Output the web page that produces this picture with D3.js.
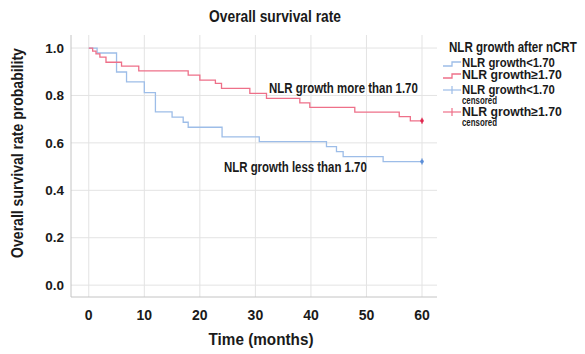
<!DOCTYPE html>
<html>
<head>
<meta charset="utf-8">
<script src="https://cdn.jsdelivr.net/npm/d3@7"></script>
<style>
  body { margin: 0; background: #fff; }
  svg text { font-family: "Liberation Sans", Arial, sans-serif; font-weight: bold; fill: #1a1a1a; }
</style>
</head>
<body>
<div id="chart"></div>
<script>
// survival steps (month, probability after the drop)
const lowMonths = [0, 1.5, 5.0, 6.8, 10.0, 12.0, 15.0, 17.0, 17.9, 24.0, 30.7, 42.8, 44.6, 45.8, 53.0, 60];
const lowSurv   = [1, 0.979, 0.899, 0.857, 0.812, 0.731, 0.709, 0.687, 0.666, 0.625, 0.605, 0.584, 0.563, 0.542, 0.521, 0.521];
const highMonths = [0, 0.7, 1.3, 2.0, 3.1, 5.9, 9.0, 17.9, 20.0, 22.8, 23.9, 29.0, 32.0, 38.0, 39.8, 47.9, 55.9, 57.9, 60];
const highSurv   = [1, 0.987, 0.975, 0.962, 0.940, 0.924, 0.904, 0.886, 0.865, 0.851, 0.830, 0.809, 0.788, 0.769, 0.750, 0.730, 0.711, 0.693, 0.693];

const xTicks = [0, 10, 20, 30, 40, 50, 60];
const yTicks = [0, 0.2, 0.4, 0.6, 0.8, 1.0];

const legendLabels = ['NLR growth<1.70', 'NLR growth\u22651.70', 'NLR growth<1.70', 'NLR growth\u22651.70'];

const width = 585;
const height = 354;
const blue = '#9dbde8';
const blueDot = '#5d8fd8';
const red = '#ee7089';
const redDot = '#e0284f';

// squeeze text horizontally to a condensed look (pre = extra transform before scaling)
function fit(sel, w, pre) {
  const node = sel.node();
  const k = w / node.getComputedTextLength();
  const tx = +sel.attr('x') || 0;
  const ty = +sel.attr('y') || 0;
  sel.attr('x', 0).attr('y', 0)
    .attr('transform', (pre || `translate(${tx},${ty})`) + ` scale(${k},1)`);
}

const svg = d3.select('#chart')
  .append('svg')
  .attr('width', width)
  .attr('height', height);

const plot = { left: 71, right: 437, top: 35, bottom: 297 };

const x = d3.scaleLinear().domain([-3.2, 62.7]).range([plot.left, plot.right]);
const y = d3.scaleLinear().domain([-0.05, 1.055]).range([plot.bottom, plot.top]);

// gridlines
svg.append('g')
  .selectAll('line')
  .data(yTicks)
  .join('line')
  .attr('x1', plot.left).attr('x2', plot.right)
  .attr('y1', (d) => y(d)).attr('y2', (d) => y(d))
  .attr('stroke', '#e3e3e3');

svg.append('g')
  .selectAll('line')
  .data(xTicks)
  .join('line')
  .attr('x1', (d) => x(d)).attr('x2', (d) => x(d))
  .attr('y1', plot.top).attr('y2', plot.bottom)
  .attr('stroke', '#e3e3e3');

// axes lines
svg.append('line')
  .attr('x1', plot.left).attr('x2', plot.left)
  .attr('y1', plot.top).attr('y2', plot.bottom)
  .attr('stroke', '#c4c4c4');
svg.append('line')
  .attr('x1', plot.left).attr('x2', plot.right)
  .attr('y1', plot.bottom).attr('y2', plot.bottom)
  .attr('stroke', '#c4c4c4');

// tick labels
svg.append('g')
  .selectAll('text')
  .data(yTicks)
  .join('text')
  .attr('x', 64)
  .attr('y', (d) => y(d))
  .attr('dy', '0.35em')
  .attr('text-anchor', 'end')
  .style('font-size', '13.5px')
  .text((d) => d.toFixed(1));

svg.append('g')
  .selectAll('text')
  .data(xTicks)
  .join('text')
  .attr('x', (d) => x(d))
  .attr('y', 320)
  .attr('text-anchor', 'middle')
  .style('font-size', '14px')
  .text((d) => d);

// titles
svg.append('text')
  .attr('x', 275).attr('y', 22)
  .attr('text-anchor', 'middle')
  .style('font-size', '17px')
  .text('Overall survival rate')
  .call(fit, 132);

svg.append('text')
  .attr('x', 261).attr('y', 345)
  .attr('text-anchor', 'middle')
  .style('font-size', '17px')
  .text('Time (months)')
  .call(fit, 105);

svg.append('text')
  .attr('text-anchor', 'middle')
  .style('font-size', '17px')
  .text('Overall survival rate probability')
  .call(fit, 210, 'translate(23,153) rotate(-90)');

// curves
const line = d3.line()
  .x((d) => x(d[0]))
  .y((d) => y(d[1]))
  .curve(d3.curveStepAfter);

const series = [
  { pts: d3.zip(lowMonths, lowSurv), color: blue, dot: blueDot },
  { pts: d3.zip(highMonths, highSurv), color: red, dot: redDot },
];

series.forEach((s) => {
  svg.append('path')
    .attr('d', line(s.pts))
    .attr('fill', 'none')
    .attr('stroke', s.color)
    .attr('stroke-width', 1.3);
  const last = s.pts[s.pts.length - 1];
  svg.append('line')
    .attr('x1', x(last[0])).attr('x2', x(last[0]))
    .attr('y1', y(last[1]) - 3).attr('y2', y(last[1]) + 3)
    .attr('stroke', s.dot).attr('stroke-width', 1.2);
  svg.append('circle')
    .attr('cx', x(last[0])).attr('cy', y(last[1]))
    .attr('r', 1.8)
    .attr('fill', s.dot);
});

// in-plot labels
svg.append('text')
  .attr('x', 269).attr('y', 93)
  .style('font-size', '14px')
  .text('NLR growth more than 1.70')
  .call(fit, 149);

svg.append('text')
  .attr('x', 224).attr('y', 172)
  .style('font-size', '14px')
  .text('NLR growth less than 1.70')
  .call(fit, 143);

// legend
const lg = svg.append('g');
lg.append('text')
  .attr('x', 449).attr('y', 52)
  .style('font-size', '15px')
  .text('NLR growth after nCRT')
  .call(fit, 128);

const stepRows = [{ yy: 66, c: blue }, { yy: 78, c: red }];
stepRows.forEach((r) => {
  lg.append('path')
    .attr('d', `M443,${r.yy} H452 V${r.yy - 4} H461`)
    .attr('fill', 'none')
    .attr('stroke', r.c)
    .attr('stroke-width', 1.3);
});
const censRows = [{ yy: 90, c: blue }, { yy: 112, c: red }];
censRows.forEach((r) => {
  lg.append('line')
    .attr('x1', 443).attr('x2', 461)
    .attr('y1', r.yy).attr('y2', r.yy)
    .attr('stroke', r.c).attr('stroke-width', 1.2);
  lg.append('line')
    .attr('x1', 452).attr('x2', 452)
    .attr('y1', r.yy - 4).attr('y2', r.yy + 4)
    .attr('stroke', r.c).attr('stroke-width', 1.2);
});

const labelY = [67, 79, 94, 116];
const labelW = [93, 100, 93, 100];
legendLabels.forEach((t, i) => {
  lg.append('text')
    .attr('x', 462).attr('y', labelY[i])
    .style('font-size', '12.5px')
    .text(t)
    .call(fit, labelW[i]);
});
[104, 126].forEach((yy) => {
  lg.append('text')
    .attr('x', 462).attr('y', yy)
    .style('font-size', '10.5px')
    .text('censored')
    .call(fit, 35);
});
</script>
</body>
</html>
